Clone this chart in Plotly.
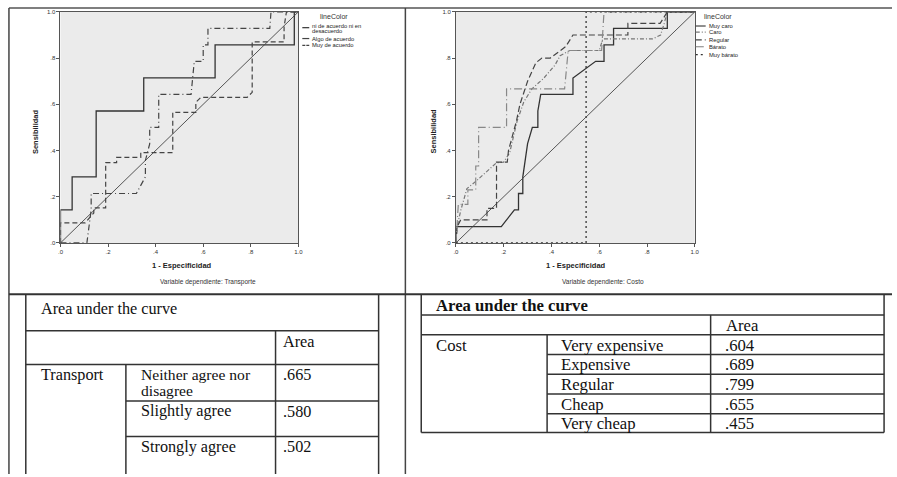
import plotly.graph_objects as go

W, H = 897, 477

# ---------------- data ----------------
tick_vals = [0, 0.2, 0.4, 0.6, 0.8, 1.0]
tick_text = [".0", ".2", ".4", ".6", ".8", "1.0"]

# Left ROC: Transporte
transp_names = ["ni de acuerdo ni en\ndesacuerdo", "Algo de acuerdo", "Muy de acuerdo"]
neutral_fpr = [0, 0, 0.049, 0.049, 0.15, 0.15, 0.35, 0.35, 0.65, 0.65, 0.983, 0.983, 1.0]
neutral_tpr = [0, 0.143, 0.143, 0.286, 0.286, 0.571, 0.571, 0.714, 0.714, 0.857, 0.857, 1.0, 1.0]
algo_fpr = [0, 0.111, 0.129, 0.129, 0.319, 0.357, 0.357, 0.375, 0.375, 0.413, 0.413, 0.549,
            0.5625, 0.6, 0.6, 0.62, 0.62, 0.88, 0.885, 1.0]
algo_tpr = [0, 0, 0.143, 0.214, 0.214, 0.286, 0.357, 0.429, 0.5, 0.5, 0.643, 0.643,
            0.786, 0.786, 0.857, 0.857, 0.929, 0.929, 1.0, 1.0]
muy_fpr = [0, 0, 0.104, 0.14, 0.14, 0.19, 0.19, 0.236, 0.236, 0.3375, 0.3375, 0.472, 0.472,
           0.569, 0.569, 0.59, 0.785, 0.806, 0.806, 0.94, 0.94, 0.95, 1.0]
muy_tpr = [0, 0.087, 0.087, 0.13, 0.152, 0.152, 0.348, 0.348, 0.37, 0.37, 0.391, 0.391, 0.565,
           0.565, 0.609, 0.63, 0.63, 0.652, 0.87, 0.87, 0.935, 1.0, 1.0]

# Right ROC: Costo
cost_names = ["Muy caro", "Caro", "Regular", "Bárato", "Muy bárato"]
mcaro_fpr = [0, 0, 0.19, 0.245, 0.262, 0.262, 0.28, 0.28, 0.3, 0.32, 0.343, 0.343, 0.355,
             0.49, 0.49, 0.54, 0.585, 0.62, 0.62, 0.66, 0.66, 0.885, 0.885, 1.0]
mcaro_tpr = [0, 0.071, 0.071, 0.143, 0.143, 0.214, 0.214, 0.286, 0.43, 0.5, 0.5, 0.571, 0.643,
             0.643, 0.714, 0.75, 0.786, 0.786, 0.857, 0.857, 0.929, 0.929, 1.0, 1.0]
caro_fpr = [0, 0.005, 0.02, 0.046, 0.087, 0.13, 0.17, 0.2, 0.225, 0.256, 0.284, 0.318, 0.367,
            0.415, 0.436, 0.463, 0.477, 0.6, 0.615, 0.823, 0.857, 0.872, 0.885, 1.0]
caro_tpr = [0, 0.07, 0.14, 0.235, 0.27, 0.31, 0.347, 0.35, 0.39, 0.527, 0.61, 0.667, 0.712,
            0.77, 0.81, 0.826, 0.833, 0.833, 0.883, 0.883, 0.9, 0.95, 1.0, 1.0]
regular_fpr = [0, 0.005, 0.02, 0.13, 0.13, 0.17, 0.17, 0.215, 0.22, 0.253, 0.268, 0.3, 0.335,
               0.36, 0.395, 0.46, 0.49, 0.72, 0.72, 0.855, 0.885, 1.0]
regular_tpr = [0, 0.07, 0.1, 0.1, 0.15, 0.15, 0.35, 0.35, 0.4, 0.526, 0.6, 0.7, 0.78,
               0.8, 0.8, 0.85, 0.9, 0.9, 0.95, 0.95, 1.0, 1.0]
barato_fpr = [0, 0.01, 0.05, 0.05, 0.083, 0.083, 0.095, 0.095, 0.212, 0.212, 0.455, 0.47,
              0.61, 0.62, 1.0]
barato_tpr = [0, 0.167, 0.167, 0.23, 0.23, 0.333, 0.333, 0.5, 0.5, 0.667, 0.667, 0.833,
              0.833, 1.0, 1.0]
mbarato_fpr = [0, 0.545, 0.545, 1.0]
mbarato_tpr = [0, 0, 1.0, 1.0]

diag_x = [0, 1]
diag_y = [0, 1]

# Tables
left_title = "Area under the curve"
left_group = "Transport"
left_rows = ["Neither agree nor\ndisagree", "Slightly agree", "Strongly agree"]
left_vals = [".665", ".580", ".502"]

right_title = "<b>Area under the curve</b>"
right_group = "Cost"
right_rows = ["Very expensive", "Expensive", "Regular", "Cheap", "Very cheap"]
right_vals = [".604", ".689", ".799", ".655", ".455"]

# ---------------- helpers ----------------
def PX(x):
    return x / W

def PY(y):
    return 1 - y / H

SANS = "Liberation Sans"
SERIF = "Liberation Serif"

fig = go.Figure()

left_styles = [("#333", "solid", 1.3), ("#444", "6px,3px,1px,3px", 1.2), ("#444", "5px,3px", 1.2)]
left_series = [(neutral_fpr, neutral_tpr), (algo_fpr, algo_tpr), (muy_fpr, muy_tpr)]
for (xs, ys), (c, d, w), nm in zip(left_series, left_styles, transp_names):
    fig.add_trace(go.Scatter(x=xs, y=ys, mode="lines", name=nm.replace("\n", " "),
                             line=dict(color=c, dash=d, width=w), xaxis="x", yaxis="y",
                             showlegend=False, hoverinfo="skip"))
fig.add_trace(go.Scatter(x=diag_x, y=diag_y, mode="lines", line=dict(color="#444", width=0.9),
                         xaxis="x", yaxis="y", showlegend=False, hoverinfo="skip"))

right_styles = [("#333", "solid", 1.3), ("#777", "4px,2px,1px,2px", 1.2), ("#444", "6px,3px", 1.2),
                ("#888", "8px,3px,1px,3px", 1.2), ("#333", "2px,3px", 1.3)]
right_series = [(mcaro_fpr, mcaro_tpr), (caro_fpr, caro_tpr), (regular_fpr, regular_tpr),
                (barato_fpr, barato_tpr), (mbarato_fpr, mbarato_tpr)]
for (xs, ys), (c, d, w), nm in zip(right_series, right_styles, cost_names):
    fig.add_trace(go.Scatter(x=xs, y=ys, mode="lines", name=nm,
                             line=dict(color=c, dash=d, width=w), xaxis="x2", yaxis="y2",
                             showlegend=False, hoverinfo="skip"))
fig.add_trace(go.Scatter(x=diag_x, y=diag_y, mode="lines", line=dict(color="#444", width=0.9),
                         xaxis="x2", yaxis="y2", showlegend=False, hoverinfo="skip"))

axis_common = dict(range=[0, 1], tickvals=tick_vals, ticktext=tick_text, ticks="outside",
                   ticklen=3, tickwidth=1, tickcolor="#555", showline=True, linecolor="#555",
                   linewidth=1, mirror=True, showgrid=False, zeroline=False,
                   tickfont=dict(size=6, family=SANS, color="#333"), fixedrange=True)

ydom = [PY(243), PY(9)]
fig.update_layout(
    width=W, height=H, margin=dict(l=0, r=0, t=0, b=0),
    paper_bgcolor="white", plot_bgcolor="#ebebeb", showlegend=False,
    xaxis=dict(domain=[PX(58), PX(298)], anchor="y", **axis_common),
    yaxis=dict(domain=ydom, anchor="x", **axis_common),
    xaxis2=dict(domain=[PX(457), PX(698)], anchor="y2", **axis_common),
    yaxis2=dict(domain=ydom, anchor="x2", **axis_common),
)

shapes = []
annots = []

def hline(x0, x1, y, w=1.5, c="#333"):
    shapes.append(dict(type="line", xref="paper", yref="paper", x0=PX(x0), x1=PX(x1),
                       y0=PY(y), y1=PY(y), line=dict(color=c, width=w)))

def vline(x, y0, y1, w=1.5, c="#333"):
    shapes.append(dict(type="line", xref="paper", yref="paper", x0=PX(x), x1=PX(x),
                       y0=PY(y0), y1=PY(y1), line=dict(color=c, width=w)))

def text(x, y, s, size, family=SANS, xanchor="left", angle=0, color="#222", pad=0):
    annots.append(dict(xref="paper", yref="paper", x=PX(x - pad), y=PY(y), text=s, showarrow=False,
                       xanchor=xanchor, yanchor="middle", textangle=angle,
                       font=dict(size=size, family=family, color=color)))

# outer frame
hline(6, 897, 5, 1.5, "#555")
vline(6, 5, 477, 1.5, "#444")
vline(406, 5, 477, 1.5, "#444")
hline(6, 897, 295, 2, "#333")

# axis titles & captions
text(181, 266, "<b>1 - Especificidad</b>", 7.5, xanchor="center")
text(578, 266, "<b>1 - Especificidad</b>", 7.5, xanchor="center")
text(33, 130, "<b>Sensibilidad</b>", 7.5, xanchor="center", angle=-90)
text(434, 130, "<b>Sensibilidad</b>", 7.5, xanchor="center", angle=-90)
text(207, 283, "Variable dependiente: Transporte", 6.5, xanchor="center", color="#333")
text(605, 283, "Variable dependiente: Costo", 6.5, xanchor="center", color="#333")

# custom legends
text(318, 14, "lineColor", 7, color="#333")
leg_left_y = [25, 36, 43]
for i, (nm, (c, d, w)) in enumerate(zip(transp_names, left_styles)):
    y = leg_left_y[i]
    shapes.append(dict(type="line", xref="paper", yref="paper", x0=PX(302), x1=PX(309),
                       y0=PY(y), y1=PY(y), line=dict(color=c, width=1.2, dash="solid" if i < 2 else "3px,1px")))
    for j, part in enumerate(nm.split("\n")):
        text(310, y - 2 + j * 5.5 if i == 0 else y, part, 5.8, color="#222")

text(705, 14, "lineColor", 7, color="#333")
leg_right_y = [23.3, 29.5, 37.3, 44.3, 52.3]
for i, (nm, (c, d, w)) in enumerate(zip(cost_names, right_styles)):
    y = leg_right_y[i]
    shapes.append(dict(type="line", xref="paper", yref="paper", x0=PX(699), x1=PX(709),
                       y0=PY(y), y1=PY(y), line=dict(color=c, width=1.1, dash=d)))
    text(710, y, nm, 5.8, color="#222")

# ---------------- left table ----------------
LT_L, LT_R, LT_C1, LT_C2 = 23, 379, 124, 275
lt_rows_top = [366, 403, 439]
vline(LT_L, 295, 477)
vline(LT_R, 295, 477)
hline(LT_L, LT_R, 332)
hline(LT_L, LT_R, 366)
for yt in lt_rows_top[1:]:
    hline(LT_C1, LT_R, yt)
vline(LT_C2, 332, 477)
vline(LT_C1, 366, 477)

LFS = 16.2
text(38, 310, left_title, LFS, SERIF, color="#111", pad=2)
text(282, 343, "Area", LFS, SERIF, color="#111", pad=2)
text(38, 377, left_group, LFS, SERIF, color="#111", pad=2)
for yt, lab, val in zip(lt_rows_top, left_rows, left_vals):
    parts = lab.split("\n")
    for j, part in enumerate(parts):
        fs = LFS if len(parts) == 1 else 15.6
        text(139, yt + 10.5 + j * 16, part, fs, SERIF, color="#111", pad=2)
    text(282, yt + 11, val, LFS, SERIF, color="#111", pad=2)

# ---------------- right table ----------------
RT_L, RT_R, RT_C1, RT_C2 = 422, 889, 549, 714
rt_lines = [336, 356, 376, 396, 416, 435]
vline(RT_L, 295, 435)
vline(RT_R, 295, 435)
hline(RT_L, RT_R, 316)
hline(RT_L, RT_R, 336)
hline(RT_L, RT_R, 435)
for yl in rt_lines[1:-1]:
    hline(RT_C1, RT_R, yl)
vline(RT_C2, 316, 435)
vline(RT_C1, 336, 435)

RFS = 16.7
text(437, 306.5, right_title, RFS, SERIF, color="#111", pad=2)
text(729, 326.5, "Area", RFS, SERIF, color="#111", pad=2)
text(437, 346.5, right_group, RFS, SERIF, color="#111", pad=2)
for k, (lab, val) in enumerate(zip(right_rows, right_vals)):
    yc = (rt_lines[k] + rt_lines[k + 1]) / 2 + 0.5
    text(563, yc, lab, RFS, SERIF, color="#111", pad=2)
    text(728, yc, val, RFS, SERIF, color="#111", pad=2)

fig.update_layout(shapes=shapes, annotations=annots)
fig.write_html("out.html", config={"displayModeBar": False},
               post_script="document.body.style.margin='0';document.body.style.overflow='hidden';")
